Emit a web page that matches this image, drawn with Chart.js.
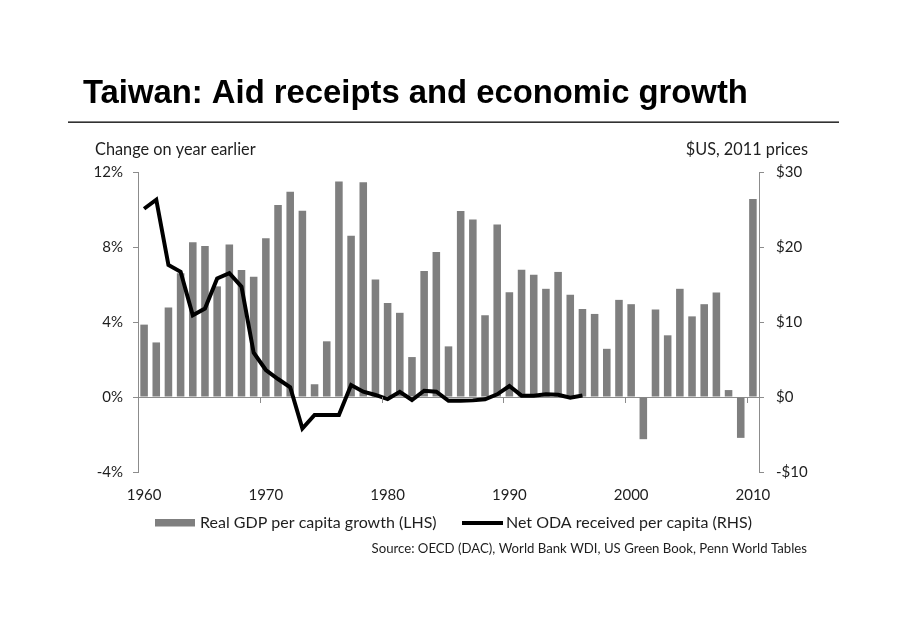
<!DOCTYPE html>
<html>
<head>
<meta charset="utf-8">
<script src="https://cdn.jsdelivr.net/npm/chart.js@4.4.0/dist/chart.umd.min.js"></script>
<style>
  html, body { margin: 0; padding: 0; background: #ffffff; }
  #wrap { position: relative; width: 920px; height: 638px; }
  canvas { display: block; }
</style>
</head>
<body>
<div id="wrap"><canvas id="c" width="920" height="638"></canvas></div>
<script>
// ---- data ----
const titleText = 'Taiwan: Aid receipts and economic growth';
const leftAxisTitle = 'Change on year earlier';
const rightAxisTitle = '$US, 2011 prices';
const sourceText = 'Source: OECD (DAC), World Bank WDI, US Green Book, Penn World Tables';

const years = ['1960','1961','1962','1963','1964','1965','1966','1967','1968','1969',
               '1970','1971','1972','1973','1974','1975','1976','1977','1978','1979',
               '1980','1981','1982','1983','1984','1985','1986','1987','1988','1989',
               '1990','1991','1992','1993','1994','1995','1996','1997','1998','1999',
               '2000','2001','2002','2003','2004','2005','2006','2007','2008','2009','2010'];
const xTickLabels = ['1960','1970','1980','1990','2000','2010'];

const gdpGrowth = [3.86,2.91,4.77,6.6,8.25,8.06,5.9,8.13,6.77,6.42,
                   8.47,10.24,10.95,9.94,0.68,2.97,11.5,8.6,11.45,6.27,
                   5.02,4.49,2.13,6.72,7.74,2.7,9.92,9.47,4.36,9.2,
                   5.59,6.79,6.52,5.77,6.67,5.45,4.7,4.43,2.57,5.18,
                   4.95,-2.25,4.67,3.29,5.77,4.3,4.95,5.58,0.37,-2.18,10.56];
const odaPerCapita = [25.1,26.3,17.6,16.7,10.9,11.8,15.8,16.5,14.7,5.9,
                      3.6,2.4,1.3,-4.2,-2.4,-2.4,-2.4,1.6,0.7,0.27,
                      -0.27,0.7,-0.4,0.84,0.7,-0.5,-0.5,-0.45,-0.3,0.36,
                      1.47,0.18,0.18,0.36,0.3,-0.1,0.2,null,null,null,
                      null,null,null,null,null,null,null,null,null,null,null];
const leftTicks = [-4,0,4,8,12];
const rightTicks = [-10,0,10,20,30];
const seriesNames = ['Real GDP per capita growth (LHS)', 'Net ODA received per capita (RHS)'];

// ---- styles ----
const AXIS = '#8c8c8c';
const BAR = '#7f7f7f';
const FONT = 'Lato, "Open Sans", sans-serif';
const TEXT = '#1e1e1e';

const decorPlugin = {
  id: 'decor',
  afterDraw(chart) {
    const ctx = chart.ctx;
    const x = chart.scales.x;
    const y = chart.scales.y;
    ctx.save();
    // decade tick marks on zero line
    const y0 = y.getPixelForValue(0);
    ctx.strokeStyle = AXIS;
    ctx.lineWidth = 1;
    years.forEach((yr, i) => {
      if (i > 0 && xTickLabels.includes(yr)) {
        const px = Math.round((x.getPixelForValue(i - 1) + x.getPixelForValue(i)) / 2) + 0.5;
        ctx.beginPath();
        ctx.moveTo(px, y0);
        ctx.lineTo(px, y0 + 6);
        ctx.stroke();
      }
    });

    // title
    ctx.fillStyle = '#000';
    ctx.textBaseline = 'alphabetic';
    ctx.textAlign = 'left';
    let size = 33;
    ctx.font = 'bold ' + size + 'px "Liberation Sans", Arial, sans-serif';
    const w = ctx.measureText(titleText).width;
    size = size * 665 / w;
    ctx.font = 'bold ' + size.toFixed(2) + 'px "Liberation Sans", Arial, sans-serif';
    ctx.fillText(titleText, 83, 103);
    // rule
    ctx.fillStyle = '#000';
    ctx.fillRect(68, 121.5, 771, 1.3);

    // axis titles
    ctx.fillStyle = TEXT;
    ctx.font = '16.3px ' + FONT;
    ctx.textBaseline = 'middle';
    ctx.textAlign = 'left';
    ctx.fillText(leftAxisTitle, 95, 150);
    ctx.textAlign = 'right';
    ctx.fillText(rightAxisTitle, 808, 150);

    // legend
    const bar = chart.data.datasets[1];
    const line = chart.data.datasets[0];
    ctx.font = '16px ' + FONT;
    ctx.textAlign = 'left';
    ctx.fillStyle = bar.backgroundColor;
    ctx.fillRect(155, 519, 40, 7.5);
    ctx.fillStyle = TEXT;
    ctx.fillText(bar.label, 200, 523);
    ctx.strokeStyle = line.borderColor;
    ctx.lineWidth = 4;
    ctx.beginPath();
    ctx.moveTo(462, 523);
    ctx.lineTo(503, 523);
    ctx.stroke();
    ctx.fillText(line.label, 506, 523);

    // source
    ctx.font = '13.2px ' + FONT;
    ctx.textAlign = 'right';
    ctx.fillText(sourceText, 807, 549);
    ctx.restore();
  }
};

new Chart(document.getElementById('c'), {
  data: {
    labels: years,
    datasets: [
      {
        type: 'line',
        label: seriesNames[1],
        data: odaPerCapita,
        yAxisID: 'y1',
        borderColor: '#000000',
        backgroundColor: '#000000',
        borderWidth: 4,
        pointRadius: 0,
        tension: 0,
        spanGaps: false,
        order: 0
      },
      {
        type: 'bar',
        label: seriesNames[0],
        data: gdpGrowth,
        yAxisID: 'y',
        backgroundColor: BAR,
        borderWidth: 0,
        barPercentage: 0.62,
        categoryPercentage: 1.0,
        order: 1
      }
    ]
  },
  options: {
    responsive: false,
    animation: false,
    devicePixelRatio: 1,
    layout: { padding: { top: 172, left: 0, right: 0, bottom: 0 } },
    plugins: { legend: { display: false }, tooltip: { enabled: false }, title: { display: false } },
    scales: {
      x: {
        type: 'category',
        offset: true,
        grid: { display: false, drawTicks: false },
        border: { display: false },
        ticks: {
          autoSkip: false, maxRotation: 0, minRotation: 0,
          color: TEXT, font: { size: 15, family: FONT }, padding: 14,
          callback: function (v, i) { const l = years[i]; return xTickLabels.includes(l) ? l : ''; }
        },
        afterFit(s) { s.height = 166; }
      },
      y: {
        position: 'left',
        min: -4, max: 12,
        afterBuildTicks(s) { s.ticks = leftTicks.map(v => ({ value: v })); },
        grid: {
          drawOnChartArea: true,
          color: (c) => (c.tick && c.tick.value === 0) ? AXIS : 'rgba(0,0,0,0)',
          tickColor: AXIS, tickLength: 5, lineWidth: 1
        },
        border: { display: true, color: AXIS },
        ticks: { color: TEXT, font: { size: 15, family: FONT }, padding: 10,
                 callback: (v) => v + '%' },
        afterFit(s) { s.width = 138; }
      },
      y1: {
        position: 'right',
        min: -10, max: 30,
        afterBuildTicks(s) { s.ticks = rightTicks.map(v => ({ value: v })); },
        grid: { drawOnChartArea: false, tickColor: AXIS, tickLength: 5 },
        border: { display: true, color: AXIS },
        ticks: { color: TEXT, font: { size: 15, family: FONT }, padding: 12,
                 callback: (v) => (v < 0 ? '-$' + (-v) : '$' + v) },
        afterFit(s) { s.width = 161; }
      }
    }
  },
  plugins: [decorPlugin]
});
</script>
</body>
</html>
